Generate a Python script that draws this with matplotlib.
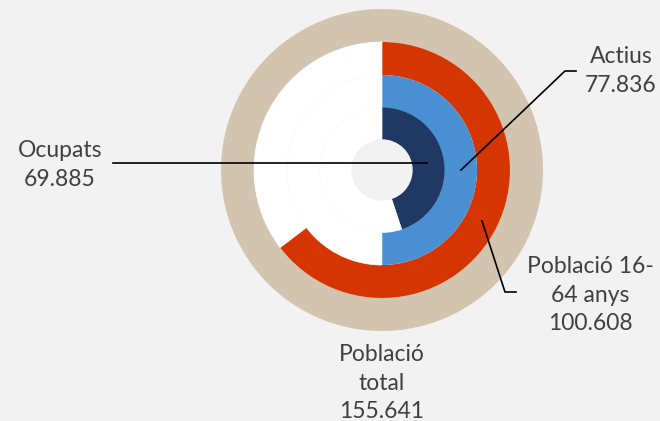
import matplotlib
matplotlib.use("Agg")
import matplotlib.pyplot as plt

# Data
labels = ["Població total", "Població 16-\n64 anys", "Actius", "Ocupats"]
values = [155.641, 100.608, 77.836, 69.885]
value_labels = ["155.641", "100.608", "77.836", "69.885"]
total = values[0]
colors = ["#D3C4B0", "#D53500", "#4A8FD1", "#203864"]

W, H = 660, 421
fig = plt.figure(figsize=(6.6, 4.21), dpi=100, facecolor="#F2F2F2")
ax = fig.add_axes([0, 0, 1, 1])
ax.set_facecolor("#F2F2F2")

cx, cy = 382, H - 170
radii = [161, 128, 95, 62.5]
width = 33

for v, c, r in zip(values, colors, radii):
    rest = total - v
    vals = [v, rest] if rest > 1e-9 else [v]
    cols = [c, "white"] if rest > 1e-9 else [c]
    wedges, _ = ax.pie(vals, colors=cols, radius=r, center=(cx, cy), startangle=90,
                       counterclock=False, wedgeprops=dict(width=width, edgecolor="none"))
    if len(wedges) > 1:
        wedges[1].set_edgecolor("#FAFAFA")
        wedges[1].set_linewidth(0.5)

# center hole
ax.add_patch(plt.Circle((cx, cy), 30, color="#F2F2F2", zorder=5))

ax.set_xlim(0, W)
ax.set_ylim(0, H)
ax.set_aspect("equal")
ax.axis("off")

font = dict(family=["Lato", "DejaVu Sans"], fontsize=16.5, color="#404040",
            ha="center", va="center", linespacing=1.45, multialignment="center")

def y(p):
    return H - p

# Ocupats
ax.text(60, y(165), f"{labels[3]}\n{value_labels[3]}", **font)
ax.plot([113, 427], [y(163), y(163)], color="black", lw=1.2, zorder=6)
# Actius
ax.text(621, y(71), f"{labels[2]}\n{value_labels[2]}", **font)
ax.plot([461, 565, 576], [y(170), y(71), y(71)], color="black", lw=1.2, zorder=6)
# Població 16-64
ax.text(590, y(295), f"{labels[1]}\n{value_labels[1]}", **font)
ax.plot([482, 505, 516], [y(221), y(292), y(292)], color="black", lw=1.2, zorder=6)
# Població total
ax.text(382, y(383), f"Població\ntotal\n{value_labels[0]}", **font)

fig.savefig("out.png", dpi=100, facecolor=fig.get_facecolor())
